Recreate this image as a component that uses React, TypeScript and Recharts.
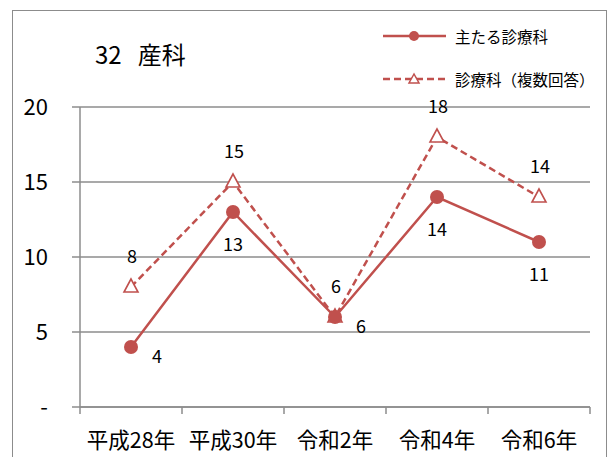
import { CartesianGrid, LabelList, Line, LineChart, XAxis, YAxis } from 'recharts';

const FONT = '"Noto Sans CJK JP", "Noto Sans", sans-serif';
const RED = '#C0504D';
const GRID = '#8C8C8C';

const categories = ['平成28年', '平成30年', '令和2年', '令和4年', '令和6年'];
const mainValues = [4, 13, 6, 14, 11];
const multiValues = [8, 15, 6, 18, 14];
const yTicks = [0, 5, 10, 15, 20];

// where the label of the main series sits, point by point
const mainLabelSide = ['right', 'below', 'right', 'below', 'below'];

const HALF_BAND = 51;

const data = categories.map((name, i) => ({
  name,
  main: mainValues[i],
  multi: multiValues[i],
}));

function TriangleDot(props: any) {
  const { cx, cy } = props;
  if (cx == null || cy == null) return null;
  return (
    <polygon
      points={`${cx},${cy - 8} ${cx - 7},${cy + 5} ${cx + 7},${cy + 5}`}
      fill="#fff"
      stroke={RED}
      strokeWidth={1.6}
    />
  );
}

function CategoryTick(props: any) {
  const { x, y, payload, index, visibleTicksCount } = props;
  return (
    <g>
      <line x1={x - HALF_BAND} y1={y - 8} x2={x - HALF_BAND} y2={y - 1} stroke={GRID} strokeWidth={1.5} />
      {index === visibleTicksCount - 1 && (
        <line x1={x + HALF_BAND} y1={y - 8} x2={x + HALF_BAND} y2={y - 1} stroke={GRID} strokeWidth={1.5} />
      )}
      <text x={x} y={y + 33} textAnchor="middle" fontSize={21.5} fontFamily={FONT} fill="#000">
        {payload.value}
      </text>
    </g>
  );
}

function MainLabel(props: any) {
  const { x, y, value, index } = props;
  const right = mainLabelSide[index] === 'right';
  return (
    <text
      x={right ? x + 26 : x}
      y={right ? y + 10 : y + 33}
      dy="0.35em"
      textAnchor="middle"
      fontSize={18}
      fontFamily={FONT}
      fill="#000"
    >
      {value}
    </text>
  );
}

function MultiLabel(props: any) {
  const { x, y, value } = props;
  return (
    <text x={x + 1} y={y - 30} dy="0.35em" textAnchor="middle" fontSize={18} fontFamily={FONT} fill="#000">
      {value}
    </text>
  );
}

function ChartLegend() {
  const row = { display: 'flex', alignItems: 'center', height: 20 } as const;
  const txt = { fontSize: 15.5, fontFamily: FONT, color: '#000', marginLeft: 9, whiteSpace: 'nowrap' } as const;
  return (
    <div style={{ position: 'absolute', left: 383, top: 26 }}>
      <div style={row}>
        <svg width={63} height={14}>
          <line x1={0} y1={7} x2={63} y2={7} stroke={RED} strokeWidth={2.5} />
          <circle cx={31} cy={7} r={5} fill={RED} />
        </svg>
        <span style={txt}>主たる診療科</span>
      </div>
      <div style={{ ...row, marginTop: 23 }}>
        <svg width={63} height={14}>
          <line x1={0} y1={7} x2={63} y2={7} stroke={RED} strokeWidth={2.5} strokeDasharray="7 4" />
          <polygon points="31,2 26,11 36,11" fill="#fff" stroke={RED} strokeWidth={1.5} />
        </svg>
        <span style={txt}>診療科（複数回答）</span>
      </div>
    </div>
  );
}

export default function App() {
  return (
    <div style={{ position: 'absolute', left: 0, top: 0, width: 616, height: 457, background: '#fff', overflow: 'hidden' }}>
      <div
        style={{
          position: 'absolute',
          left: 12,
          top: 10,
          width: 595,
          height: 460,
          border: '1.5px solid #8C8C8C',
          boxSizing: 'border-box',
        }}
      />
      <LineChart
        width={616}
        height={457}
        data={data}
        margin={{ top: 107, right: 26, bottom: 10, left: 20 }}
        style={{ position: 'absolute', left: 0, top: 0 }}
      >
        <CartesianGrid vertical={false} stroke={GRID} strokeWidth={1.5} />
        <XAxis
          dataKey="name"
          height={40}
          padding={{ left: HALF_BAND, right: HALF_BAND }}
          axisLine={{ stroke: GRID, strokeWidth: 1.5 }}
          tickLine={false}
          interval={0}
          tick={<CategoryTick />}
        />
        <YAxis
          width={60}
          domain={[0, 20]}
          ticks={yTicks}
          interval={0}
          axisLine={{ stroke: GRID, strokeWidth: 1.5 }}
          tickLine={{ stroke: GRID, strokeWidth: 1.5 }}
          tickSize={8}
          tickFormatter={(v: number) => (v === 0 ? '-' : String(v))}
          tick={{ fontSize: 22, fontFamily: FONT, fill: '#000', dx: -22 }}
        />
        <Line
          dataKey="multi"
          name="診療科（複数回答）"
          stroke={RED}
          strokeWidth={2.5}
          strokeDasharray="7 4"
          dot={<TriangleDot />}
          activeDot={false}
          isAnimationActive={false}
        >
          <LabelList dataKey="multi" content={<MultiLabel />} />
        </Line>
        <Line
          dataKey="main"
          name="主たる診療科"
          stroke={RED}
          strokeWidth={2.5}
          dot={{ r: 7, fill: RED, stroke: RED, strokeWidth: 0 }}
          activeDot={false}
          isAnimationActive={false}
        >
          <LabelList dataKey="main" content={<MainLabel />} />
        </Line>
      </LineChart>
      <div
        style={{
          position: 'absolute',
          left: 95,
          top: 38,
          fontSize: 24,
          fontFamily: FONT,
          color: '#000',
          lineHeight: '32px',
          whiteSpace: 'nowrap',
        }}
      >
        <span>32</span>
        <span style={{ marginLeft: 16 }}>産科</span>
      </div>
      <ChartLegend />
    </div>
  );
}
